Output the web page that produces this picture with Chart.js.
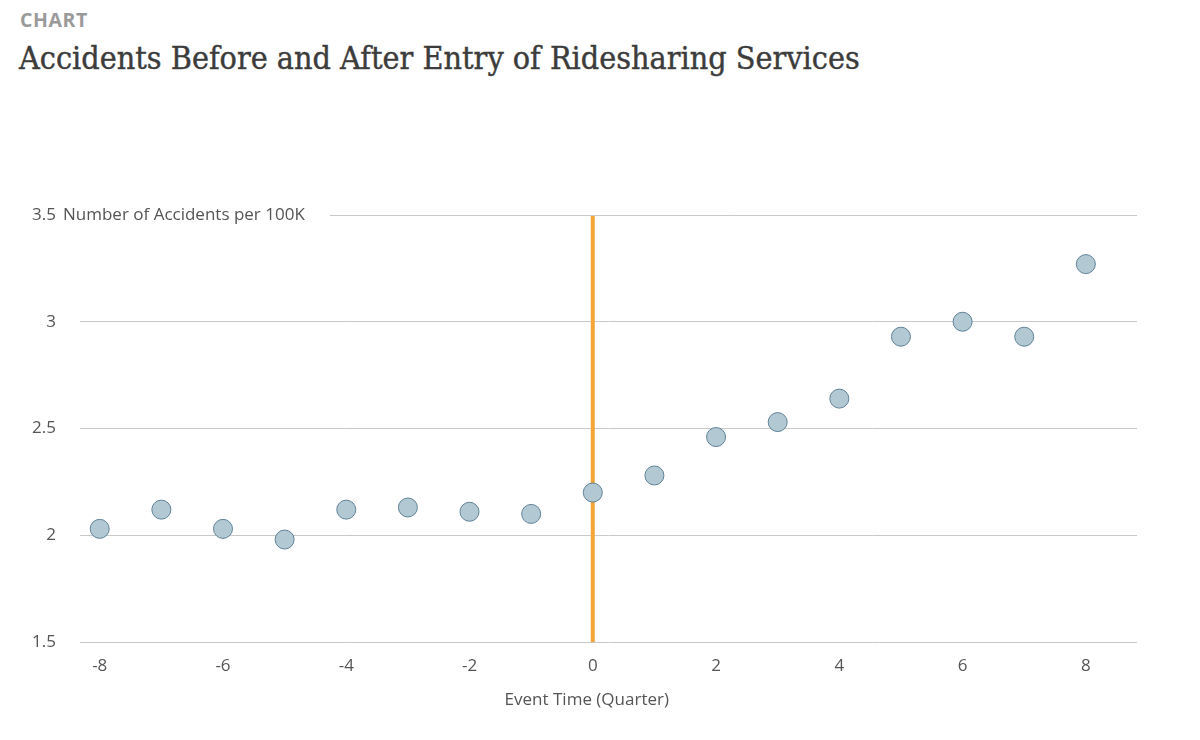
<!DOCTYPE html>
<html>
<head>
<meta charset="utf-8">
<script src="https://cdn.jsdelivr.net/npm/chart.js@4.4.1/dist/chart.umd.min.js"></script>
<style>
    body { margin: 0; background: #fff; }
    #wrap { position: relative; width: 1200px; height: 740px; }
    #kicker { position: absolute; left: 20px; top: 6px; font: bold 19.5px "Open Sans", sans-serif; color: #9a9a9a; letter-spacing: 0.6px; }
    #title { position: absolute; left: 19px; top: 39px; font: 32px "DejaVu Serif Condensed", "DejaVu Serif", serif; color: #3c3c3c; white-space: nowrap; -webkit-text-stroke: 0.4px #3c3c3c; }
    canvas { position: absolute; left: 0; top: 0; }
</style>
</head>
<body>
<div id="wrap">
    <div id="kicker">CHART</div>
    <div id="title">Accidents Before and After Entry of Ridesharing Services</div>
    <canvas id="accidentChart" width="1200" height="740"></canvas>
</div>
<script>
const quarters = [-8, -7, -6, -5, -4, -3, -2, -1, 0, 1, 2, 3, 4, 5, 6, 7, 8];
const accidents = [2.03, 2.12, 2.03, 1.98, 2.12, 2.13, 2.11, 2.10, 2.20, 2.28, 2.46, 2.53, 2.64, 2.93, 3.00, 2.93, 3.27];
const xTicks = [-8, -6, -4, -2, 0, 2, 4, 6, 8];
const yTicks = [1.5, 2, 2.5, 3, 3.5];
const entryQuarter = [0, 0];
const entryRange = [1.5, 3.5];
const yUnit = 'Number of Accidents per 100K';
const xTitle = 'Event Time (Quarter)';

const tickFont = { family: '"Open Sans", sans-serif', size: 17 };

// unit label next to the top tick (top gridline starts after it) + x axis title
const axisLabels = {
    id: 'axisLabels',
    afterDraw(chart) {
        const ctx = chart.ctx;
        const y = chart.scales.y.getPixelForValue(yTicks[yTicks.length - 1]);
        ctx.save();
        ctx.font = '17px "Open Sans", sans-serif';
        ctx.fillStyle = '#555';
        ctx.textBaseline = 'middle';
        ctx.fillText(yUnit, 63, y);
        const end = 63 + ctx.measureText(yUnit).width + 25;
        ctx.strokeStyle = '#c8c8c8';
        ctx.lineWidth = 1;
        ctx.beginPath();
        ctx.moveTo(end, y + 0.5);
        ctx.lineTo(chart.chartArea.right, y + 0.5);
        ctx.stroke();

        ctx.textAlign = 'center';
        ctx.fillText(xTitle, chart.scales.x.getPixelForValue(0) - 6, chart.chartArea.bottom + 58);
        ctx.restore();
    }
};

//eslint-disable-next-line
const accidentChart = new Chart(document.getElementById('accidentChart'), {
    type: 'scatter',
    data: {
        datasets: [{
            label: 'Accidents',
            data: quarters.map((q, i) => ({ x: q, y: accidents[i] })),
            backgroundColor: '#b2c9d4',
            borderColor: '#5f8296',
            borderWidth: 1,
            pointRadius: 9.5,
            order: 1
        }, {
            type: 'line',
            label: 'Entry',
            data: entryQuarter.map((q, i) => ({ x: q, y: entryRange[i] })),
            borderColor: '#f2a63a',
            borderWidth: 4,
            pointRadius: 0,
            order: 2
        }]
    },
    options: {
        responsive: false,
        animation: false,
        layout: { padding: { top: 215, right: 63, left: 0, bottom: 0 } },
        plugins: { legend: { display: false }, tooltip: { enabled: false } },
        scales: {
            x: {
                type: 'linear',
                min: -8.32,
                max: 8.83,
                grid: { display: false },
                border: { display: false },
                afterBuildTicks: (scale) => { scale.ticks = xTicks.map(v => ({ value: v })); },
                afterFit: (scale) => { scale.height = 98; },
                ticks: { font: tickFont, color: '#555', padding: 6, callback: (v) => String(v) }
            },
            y: {
                min: 1.5,
                max: 3.5,
                afterBuildTicks: (scale) => { scale.ticks = yTicks.map(v => ({ value: v })); },
                afterFit: (scale) => { scale.width = 80; },
                grid: {
                    drawTicks: false,
                    color: (c) => c.tick && c.tick.value === 3.5 ? 'rgba(0,0,0,0)' : '#c8c8c8'
                },
                border: { display: false },
                ticks: { font: tickFont, color: '#555', padding: 24, callback: (v) => String(v) }
            }
        }
    },
    plugins: [axisLabels]
});
</script>
</body>
</html>
